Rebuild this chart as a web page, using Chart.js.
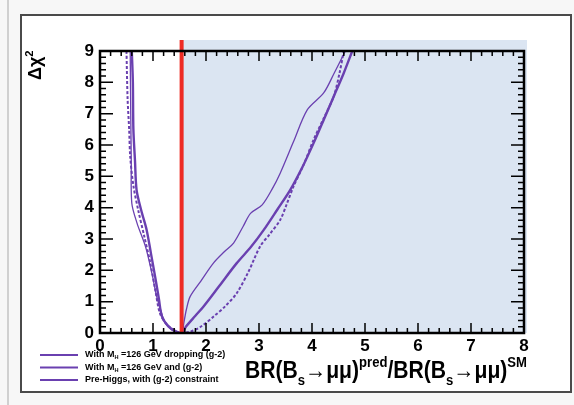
<!DOCTYPE html>
<html>
<head>
<meta charset="utf-8">
<script src="https://cdn.jsdelivr.net/npm/chart.js@4/dist/chart.umd.min.js"></script>
<style>
  html, body { margin: 0; padding: 0; background: #fafafa; }
  canvas { display: block; }
</style>
</head>
<body>
<canvas id="chi2" width="574" height="405"></canvas>
<script>
// Delta chi^2 profiles vs BR(Bs->mumu) ratio, one curve per fit scenario
const scenarioLabels = [
  ['With M', {sub: 'H'}, ' =126 GeV dropping (g-2)'],
  ['With M', {sub: 'H'}, ' =126 GeV and (g-2)'],
  ['Pre-Higgs, with (g-2) constraint']
];

const droppingX = [0.57, 0.58, 0.59, 0.60, 0.70, 0.86, 0.98, 1.07, 1.16, 1.23, 1.35, 1.47, 1.55,
                   1.58, 1.63, 1.70, 1.90, 2.14, 2.35, 2.52, 2.70, 2.84, 3.06, 3.25, 3.40, 3.65, 3.91, 4.22, 4.42, 4.63];
const droppingY = [9.0, 7.0, 5.5, 4.14, 3.5, 2.75, 1.9, 1.16, 0.65, 0.31, 0.10, 0.02, 0.0,
                   0.30, 0.75, 1.16, 1.65, 2.23, 2.60, 2.87, 3.40, 3.82, 4.09, 4.60, 5.10, 6.10, 7.12, 7.66, 8.30, 9.0];

const withG2X = [0.60, 0.62, 0.63, 0.66, 0.69, 0.78, 0.88, 0.96, 1.04, 1.11, 1.17, 1.30, 1.45, 1.55,
                 1.62, 1.80, 1.95, 2.25, 2.58, 2.85, 3.09, 3.35, 3.59, 3.82, 4.03, 4.22, 4.41, 4.60, 4.76];
const withG2Y = [9.0, 8.0, 6.5, 5.5, 4.57, 3.9, 3.29, 2.55, 1.8, 1.1, 0.52, 0.2, 0.04, 0.0,
                 0.2, 0.55, 0.84, 1.5, 2.23, 2.75, 3.29, 3.95, 4.57, 5.3, 6.06, 6.8, 7.55, 8.3, 9.0];

const preHiggsX = [0.50, 0.52, 0.55, 0.57, 0.63, 0.72, 0.84, 0.95, 1.04, 1.13, 1.25, 1.39, 1.52,
                   1.70, 1.90, 2.14, 2.36, 2.58, 2.80, 3.02, 3.20, 3.40, 3.52, 3.65, 3.85, 4.03, 4.22, 4.41, 4.52, 4.60];
const preHiggsY = [9.0, 7.5, 6.5, 5.63, 4.7, 3.93, 3.05, 2.23, 1.4, 0.63, 0.3, 0.1, 0.0,
                   0.04, 0.2, 0.52, 0.85, 1.27, 1.95, 2.76, 3.15, 3.61, 4.1, 4.67, 5.4, 6.17, 6.85, 7.55, 8.3, 9.0];

const xTicks = [0, 1, 2, 3, 4, 5, 6, 7, 8];
const yTicks = [0, 1, 2, 3, 4, 5, 6, 7, 8, 9];
const brLimit = 1.54;   // experimental bound, shaded region above it is excluded

const purple = '#6a40b0';
const FONT = '"Liberation Sans", Arial, sans-serif';

function pts(xs, ys) {
  return xs.map((x, i) => ({x: x, y: ys[i]}));
}

// draws text with sub/superscript pieces, returns total width
function richText(ctx, parts, x, y, size, measureOnly) {
  let cx = x;
  for (const p of parts) {
    let txt, dy = 0, s = size;
    if (typeof p === 'string') { txt = p; }
    else if (p.sub) { txt = p.sub; s = size * 0.62; dy = size * 0.28; }
    else { txt = p.sup; s = size * 0.62; dy = -size * 0.45; }
    ctx.font = 'bold ' + s + 'px ' + FONT;
    if (!measureOnly) ctx.fillText(txt, cx, y + dy);
    cx += ctx.measureText(txt).width;
  }
  return cx - x;
}

const pageFrame = {
  id: 'pageFrame',
  beforeDraw(chart) {
    const ctx = chart.ctx;
    ctx.save();
    ctx.fillStyle = '#f7f7f7';
    ctx.fillRect(0, 0, chart.width, chart.height);
    ctx.fillStyle = '#d0d0d0';
    ctx.fillRect(7, 0, 2, chart.height);
    ctx.fillStyle = '#ffffff';
    ctx.fillRect(21, 15, 550, 377);
    ctx.strokeStyle = '#4a4a4a';
    ctx.lineWidth = 2;
    ctx.strokeRect(21, 15, 550, 377);
    ctx.restore();
  }
};

const exclusion = {
  id: 'exclusion',
  beforeDatasetsDraw(chart) {
    const {ctx, chartArea: a, scales: {x}} = chart;
    const px = x.getPixelForValue(brLimit);
    ctx.save();
    ctx.fillStyle = '#dbe5f2';
    ctx.fillRect(px, a.top - 11, a.right + 3 - px, a.bottom - a.top + 11);
    ctx.restore();
  },
  afterDatasetsDraw(chart) {
    const {ctx, chartArea: a, scales: {x}} = chart;
    const px = x.getPixelForValue(brLimit);
    ctx.save();
    ctx.strokeStyle = '#ee2b24';
    ctx.lineWidth = 4;
    ctx.beginPath();
    ctx.moveTo(px, a.top - 11);
    ctx.lineTo(px, a.bottom);
    ctx.stroke();
    ctx.restore();
  }
};

// ROOT-style inward ticks on all four sides, titles and legend
const decorations = {
  id: 'decorations',
  afterDraw(chart) {
    const {ctx, chartArea: a, scales: {x, y}} = chart;
    ctx.save();
    ctx.strokeStyle = '#000';
    ctx.lineWidth = 1.5;
    ctx.beginPath();
    for (let i = 0; i <= 40; i++) {
      const px = x.getPixelForValue(i / 5);
      const len = i % 5 === 0 ? 10 : 5;
      ctx.moveTo(px, a.bottom); ctx.lineTo(px, a.bottom - len);
      ctx.moveTo(px, a.top); ctx.lineTo(px, a.top + len);
    }
    for (let i = 0; i <= 45; i++) {
      const py = y.getPixelForValue(i / 5);
      const len = i % 5 === 0 ? 13 : 6;
      ctx.moveTo(a.left, py); ctx.lineTo(a.left + len, py);
      ctx.moveTo(a.right, py); ctx.lineTo(a.right - len, py);
    }
    ctx.stroke();
    ctx.lineWidth = 2.5;
    ctx.strokeRect(a.left, a.top, a.right - a.left, a.bottom - a.top);

    // x axis title, squeezed to span the right part of the axis
    ctx.fillStyle = '#000';
    ctx.textBaseline = 'alphabetic';
    ctx.textAlign = 'left';
    const title = ['BR(B', {sub: 's'}, '\u2192\u03bc\u03bc)', {sup: 'pred'}, '/BR(B', {sub: 's'}, '\u2192\u03bc\u03bc)', {sup: 'SM'}];
    const w = richText(ctx, title, 0, 0, 24, true);
    const left = 245, span = 282;
    ctx.save();
    ctx.translate(left, 378);
    ctx.scale(span / w, 1);
    richText(ctx, title, 0, 0, 24, false);
    ctx.restore();

    // y axis title
    ctx.save();
    ctx.translate(41, 80);
    ctx.rotate(-Math.PI / 2);
    richText(ctx, ['\u0394\u03c7', {sup: '2'}], 0, 0, 18, false);
    ctx.restore();

    // legend
    chart.data.datasets.forEach((ds, i) => {
      const ly = 355 + i * 12.5;
      ctx.strokeStyle = ds.borderColor;
      ctx.lineWidth = 2;
      ctx.setLineDash([]);
      ctx.beginPath();
      ctx.moveTo(40, ly); ctx.lineTo(78, ly);
      ctx.stroke();
      ctx.fillStyle = '#000';
      ctx.textBaseline = 'middle';
      richText(ctx, scenarioLabels[i], 85, ly, 9, false);
    });
    ctx.restore();
  }
};

new Chart(document.getElementById('chi2'), {
  type: 'scatter',
  data: {
    datasets: [
      {label: 'dropping', data: pts(droppingX, droppingY), borderColor: purple, borderWidth: 1.3},
      {label: 'with g-2', data: pts(withG2X, withG2Y), borderColor: purple, borderWidth: 2.4},
      {label: 'pre-Higgs', data: pts(preHiggsX, preHiggsY), borderColor: purple, borderWidth: 2, borderDash: [3, 2]}
    ].map(d => Object.assign(d, {showLine: true, pointRadius: 0, tension: 0.3, fill: false}))
  },
  options: {
    responsive: false,
    devicePixelRatio: 1,
    animation: false,
    layout: {padding: {left: 0, top: 51, right: 50, bottom: 48}},
    plugins: {legend: {display: false}, tooltip: {enabled: false}},
    scales: {
      x: {
        type: 'linear', min: 0, max: 8,
        afterBuildTicks: s => { s.ticks = xTicks.map(v => ({value: v})); },
        afterFit: s => { s.height = 24; },
        grid: {display: false, drawTicks: false}, border: {display: false},
        ticks: {color: '#000', padding: 3, maxRotation: 0, font: {family: FONT, size: 17, weight: 'bold'}}
      },
      y: {
        type: 'linear', min: 0, max: 9,
        afterBuildTicks: s => { s.ticks = yTicks.map(v => ({value: v})); },
        afterFit: s => { s.width = 100; },
        grid: {display: false, drawTicks: false}, border: {display: false},
        ticks: {color: '#000', padding: 6, font: {family: FONT, size: 17, weight: 'bold'}}
      }
    }
  },
  plugins: [pageFrame, exclusion, decorations]
});
</script>
</body>
</html>
